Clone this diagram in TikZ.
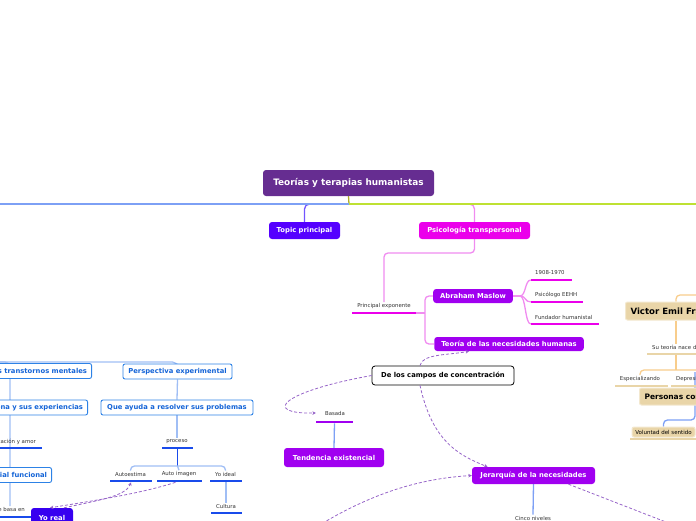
\documentclass[tikz,border=0pt]{standalone}
\usepackage{fontspec}
\setmainfont{DejaVu Sans}
\usetikzlibrary{arrows.meta, positioning, backgrounds}

\definecolor{rootc}{RGB}{102,45,145}
\definecolor{topicc}{RGB}{85,0,255}
\definecolor{magc}{RGB}{235,0,235}
\definecolor{violc}{RGB}{160,0,240}
\definecolor{yoc}{RGB}{55,0,240}
\definecolor{boxblue}{RGB}{45,130,230}
\definecolor{txtblue}{RGB}{20,100,215}
\definecolor{lineblue}{RGB}{125,160,245}
\definecolor{paleblue}{RGB}{160,190,245}
\definecolor{darkblue}{RGB}{25,75,235}
\definecolor{limec}{RGB}{190,225,50}
\definecolor{olivec}{RGB}{175,175,40}
\definecolor{pinkc}{RGB}{240,140,240}
\definecolor{topicline}{RGB}{115,85,255}
\definecolor{tanc}{RGB}{233,213,168}
\definecolor{tanline}{RGB}{248,205,140}
\definecolor{relc}{RGB}{150,100,200}

\begin{document}
\begin{tikzpicture}[x=1pt, y=-1pt,
    >={Stealth[length=3.5pt, width=3.5pt]},
    box/.style={rectangle, rounded corners=3pt, inner xsep=7pt, inner ysep=0pt, minimum height=17pt, text=white, font=\fontsize{6.8}{8}\selectfont\bfseries},
    bluebox/.style={rectangle, rounded corners=2pt, draw=boxblue, line width=0.9pt, fill=white, inner xsep=4.5pt, inner ysep=0pt, minimum height=15pt, text=txtblue, font=\fontsize{6.8}{8}\selectfont\bfseries},
    tanbox/.style={rectangle, rounded corners=2pt, draw=tanc!55!white, line width=1pt, fill=tanc, inner xsep=5pt, inner ysep=0pt, minimum height=18pt, text=black, font=\fontsize{8.6}{10}\selectfont\bfseries},
    lab/.style={inner sep=1pt, text=black!80, font=\fontsize{5.4}{6}\selectfont},
    bar/.style={rectangle, inner sep=0pt, minimum height=2.2pt},
    conn/.style={line width=1.3pt},
    rel/.style={relc, line width=0.8pt, dash pattern=on 3pt off 2pt}
    ]
    \useasboundingbox (0,0) rectangle (696,520);
    % Nodes
    \node[box, fill=rootc, minimum width=171pt, minimum height=26pt, font=\fontsize{8.9}{10}\selectfont\bfseries] (root) at (348.5,183) {Teorías y terapias humanistas};
    \node[box, fill=topicc, minimum width=71pt] (topic) at (304.5,230.5) {Topic principal};
    \node[box, fill=magc, minimum width=111pt] (transp) at (474.5,230.5) {Psicología transpersonal};
    \node[lab] (expo) at (384,306) {Principal exponente};
    \node[bar, fill=magc, minimum width=64pt] (expobar) at (384,313) {};
    \node[box, fill=violc, minimum width=74pt, minimum height=14pt] (maslow) at (473,296) {Abraham Maslow};
    \node[box, fill=violc, minimum width=146pt, minimum height=14pt] (teoria) at (509,344) {Teoría de las necesidades humanas};
    \node[lab, anchor=west] (fechas) at (534,273) {1908-1970};
    \node[bar, fill=magc, minimum width=41pt] (fechasbar) at (551.5,280) {};
    \node[lab, anchor=west] (psico) at (534,295) {Psicólogo EEHH};
    \node[bar, fill=magc, minimum width=52pt] (psicobar) at (557,302) {};
    \node[lab, anchor=west] (fund) at (534,317) {Fundador humanistal};
    \node[bar, fill=magc, minimum width=68pt] (fundbar) at (565,324) {};
    \node[box, fill=white, draw=black, text=black, line width=0.8pt, minimum width=142pt, minimum height=19pt] (campos) at (443,375.5) {De los campos de concentración};
    \node[lab] (basada) at (335,413) {Basada};
    \node[bar, fill=violc, minimum width=37pt] (basadabar) at (334.5,422) {};
    \node[box, fill=violc, minimum width=100pt, minimum height=19pt] (tend) at (334,457.5) {Tendencia existencial};
    \node[box, fill=violc, minimum width=123pt] (jerar) at (533.5,475.5) {Jerarquía de la necesidades};
    \node[lab] (cinco) at (533,518) {Cinco niveles};
    % Nodes, Frankl
    \node[tanbox, anchor=west] (frankl) at (625,311) {Victor Emil Frankl};
    \node[lab, anchor=west] (nace) at (651,347) {Su teoría nace de};
    \node[bar, fill=tanc, anchor=west, minimum width=60pt] (nacebar) at (647,354) {};
    \node[lab] (espec) at (640,379) {Especializando};
    \node[bar, fill=tanc, minimum width=53pt] (especbar) at (641.5,386) {};
    \node[lab, anchor=west] (depres) at (675,379) {Depresión};
    \node[bar, fill=tanc, anchor=west, minimum width=40pt] (depresbar) at (671,386) {};
    \node[tanbox, anchor=west, minimum height=17pt, font=\fontsize{7.5}{9}\selectfont\bfseries] (personas) at (639,396.5) {Personas con};
    \node[tanbox, minimum width=63pt, minimum height=10pt, inner xsep=2pt, font=\fontsize{5.5}{6}\selectfont] (volun) at (663.5,432) {Voluntad del sentido};
    \node[bar, fill=tanc, minimum width=66pt] (volunbar) at (663,439) {};
    % Nodes, left side
    \node[bluebox, anchor=east] (trans) at (92,371) {Los transtornos mentales};
    \node[bluebox, minimum width=109pt] (persp) at (177.5,371.5) {Perspectiva experimental};
    \node[bluebox, anchor=east] (exper) at (88,407.5) {La persona y sus experiencias};
    \node[bluebox, minimum width=152pt] (ayuda) at (177,407.5) {Que ayuda a resolver sus problemas};
    \node[lab, anchor=east] (amor) at (37,441.5) {Aceptación y amor};
    \node[bar, fill=darkblue, minimum width=47pt] (amorbar) at (18.5,448) {};
    \node[bluebox, anchor=east] (func) at (52,475) {Potencial funcional};
    \node[lab, anchor=east] (basa) at (26,509.5) {Se basa en};
    \node[bar, fill=darkblue, minimum width=40pt] (basabar) at (12,517) {};
    \node[box, fill=yoc, minimum width=42pt, minimum height=20pt] (yoreal) at (52,518) {Yo real};
    \node[lab] (proceso) at (177,441.5) {proceso};
    \node[bar, fill=darkblue, minimum width=31pt] (procesobar) at (177.5,448) {};
    \node[lab] (autoe) at (130.5,474) {Autoestima};
    \node[bar, fill=darkblue, minimum width=42pt] (autoebar) at (131,481) {};
    \node[lab] (autoi) at (179,474) {Auto imagen};
    \node[bar, fill=darkblue, minimum width=45pt] (autoibar) at (179.5,481) {};
    \node[lab] (ideal) at (225.5,474) {Yo ideal};
    \node[bar, fill=darkblue, minimum width=32pt] (idealbar) at (226,481) {};
    \node[lab] (cultura) at (226,506) {Cultura};
    \node[bar, fill=darkblue, minimum width=31pt] (culturabar) at (226.5,513) {};
    % Free ends
    \coordinate (hub) at (349,204);
    \coordinate (westend) at (-5,204);
    \coordinate (eastend) at (701,204);
    \coordinate (lefttop) at (-5,362);
    \coordinate (tx) at (676,0);
    \coordinate (franklin) at (701,295);
    \coordinate (tanfork) at (701,370);
    \coordinate (bluetop) at (695,372);
    \coordinate (offa) at (318,526);
    \coordinate (offb) at (702,536);
    % Edges
    \begin{scope}[on background layer]
    \draw[conn, olivec] (root.south) -- (hub);
    \draw[conn, topicline, rounded corners=5pt] (hub) -| (topic.north);
    \draw[conn, pinkc, rounded corners=5pt] (hub) -| (transp.north);
    \draw[conn, lineblue] (hub) -- (westend);
    \draw[conn, limec] (hub) -- (eastend);
    \draw[conn, pinkc, rounded corners=4pt] (transp.south) -- (474.5,253) -| (expo.north);
    \draw[conn, pinkc] (expobar.east) -- (425,313);
    \draw[conn, pinkc, rounded corners=4pt] (maslow.west) -| (425,320) |- (teoria.west);
    \foreach \b in {fechasbar, psicobar, fundbar}
        \draw[conn, pinkc] (maslow.east) -- ++(7,0) .. controls +(6,0) and +(-6,0) .. (\b.west);
    \draw[conn, lineblue] (basadabar.south) -- (tend.north);
    \draw[conn, lineblue] (jerar.south) -- (cinco.north);
    % Frankl
    \draw[conn, tanline, rounded corners=4pt] (franklin) -| (frankl.north -| tx);
    \draw[conn, tanline] (frankl.south -| tx) -- (nace.north -| tx);
    \draw[conn, tanline] (nacebar.south -| tx) -- (tanfork -| tx);
    \draw[conn, tanline, rounded corners=4pt] (tanfork) -| (espec.north);
    \draw[conn, lineblue, rounded corners=4pt] (bluetop) |- (680,420) -| (volun.north);
    % left side
    \draw[conn, paleblue, rounded corners=5pt] (lefttop) -| (persp.north);
    \draw[conn, paleblue, rounded corners=5pt] (lefttop) -| (basa.north -| 10,0);
    \draw[conn, paleblue] (persp.south) -- (ayuda.north);
    \draw[conn, paleblue] (ayuda.south) -- (proceso.north);
    \draw[conn, darkblue] (procesobar.south) -- (177.5,466);
    \draw[conn, paleblue, rounded corners=4pt] (autoe.north) |- (177.5,466) -| (ideal.north);
    \draw[conn, paleblue] (177.5,466) -- (autoi.north);
    \draw[conn, paleblue] (idealbar.south) -- (cultura.north);
    \end{scope}
    % Relations
    \draw[rel, ->] ([xshift=-23pt]campos.north) .. controls +(2,-12) and +(-20,4) .. ([xshift=-40pt]teoria.south);
    \draw[rel, ->] (campos.west) .. controls (280,392) and (262,414) .. ([xshift=-8pt]basada.west);
    \draw[rel, ->] ([xshift=-23pt]campos.south) .. controls +(12,55) and +(-30,-12) .. ([xshift=-46pt]jerar.north);
    \draw[rel, ->] (offa) .. controls (380,488) and (430,478) .. (jerar.west);
    \draw[rel] ([xshift=35pt]jerar.south) -- (offb);
    \draw[rel, ->] ([xshift=-4pt]autoibar.south) .. controls (140,494) and (85,502) .. ([xshift=-2pt]yoreal.north);
    \draw[rel, ->] ([xshift=12pt]yoreal.north) .. controls (100,500) and (126,496) .. (autoebar.south);
\end{tikzpicture}
\end{document}
